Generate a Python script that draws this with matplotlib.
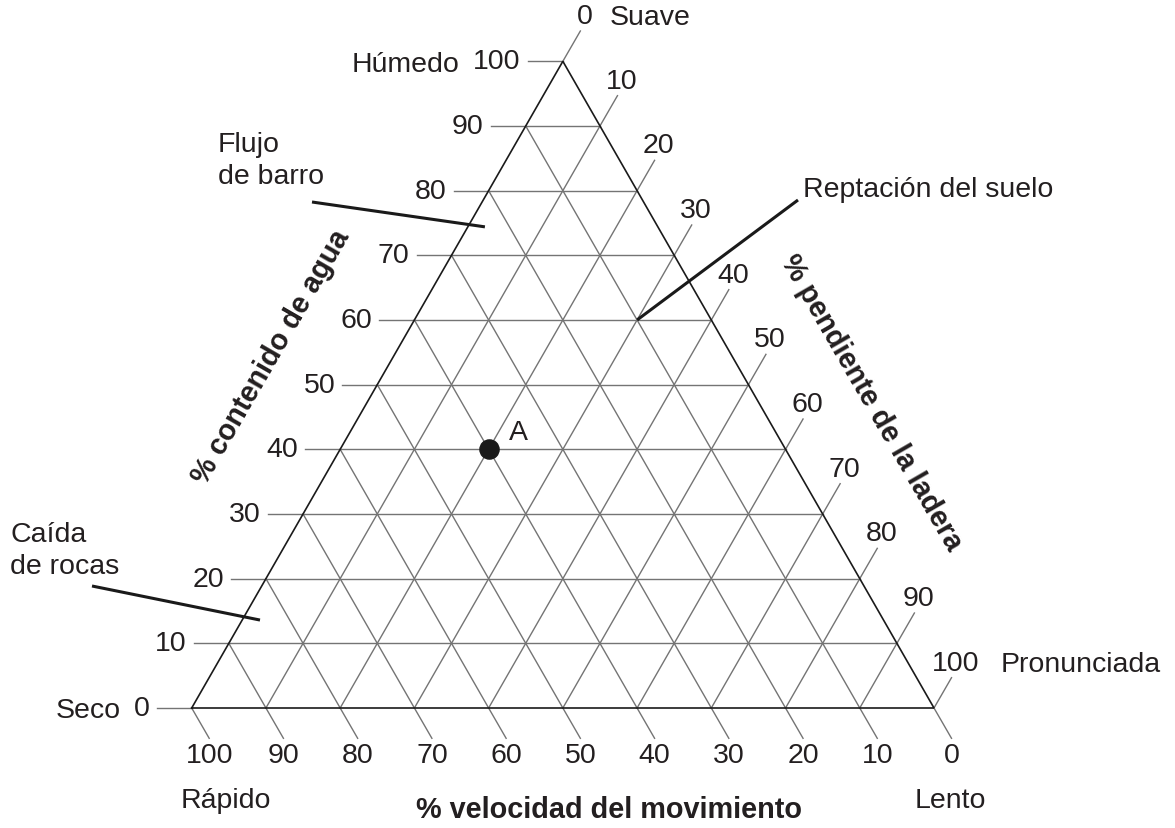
import numpy as np
import matplotlib
matplotlib.use("Agg")
import matplotlib.pyplot as plt

plt.rcParams['font.family'] = ['Liberation Sans', 'DejaVu Sans']

# ---- data ----
tick_values = [0, 10, 20, 30, 40, 50, 60, 70, 80, 90, 100]
water_ticks = tick_values            # left axis: % contenido de agua (0 bottom, 100 apex)
slope_ticks = tick_values            # right axis: % pendiente (0 apex, 100 bottom-right)
velocity_ticks = tick_values         # bottom axis: % velocidad (100 left, 0 right)
point_names = ["A"]
point_water = [40]
point_slope = [20]
point_velocity = [40]
callout_labels = ["Flujo\nde barro", "Caída\nde rocas", "Reptación del suelo"]
callout_water = [74.4, 13.6, 60]
callout_slope = [2.3, 2.4, 30]
callout_velocity = [23.3, 84.0, 10]

TXT = '#231f20'
GRID = '#747474'
H = np.sqrt(3) / 2

W_PX, H_PX = 1175, 829
fig = plt.figure(figsize=(W_PX / 100, H_PX / 100), dpi=100)
ax = fig.add_axes([0, 0, 1, 1])
# triangle: bottom-left at px (191.7, 709), width 742.3 px, apex at y=62.3
sx = 742.3
sy = 646.7 / H
x0p, y0p = 191.7, 709.0
ax.set_xlim(-x0p / sx, (W_PX - x0p) / sx)
ax.set_ylim(-(H_PX - y0p) / sy, y0p / sy)
ax.axis('off')


def px(x, y):
    """pixel position (from top-left) -> data coords"""
    return (x - x0p) / sx, (y0p - y) / sy


def tern(w, s, v):
    w, s, v = w / 100, s / 100, v / 100
    tot = w + s + v
    w, s, v = w / tot, s / tot, v / tot
    y = w * H
    x = s + w / 2
    return x, y


# triangle outline
tri_x = [0, 1, 0.5, 0]
tri_y = [0, 0, H, 0]
ax.plot(tri_x, tri_y, color='#1a1a1a', lw=1.2, zorder=3, solid_joinstyle='miter')

# grid lines
for t in tick_values[1:-1]:
    f = t / 100
    # water (horizontal)
    ax.plot([f / 2, 1 - f / 2], [f * H, f * H], color=GRID, lw=1.0, zorder=1)
    # slope (parallel to left side)
    ax.plot([f, 0.5 + 0.5 * f], [0, H * (1 - f)], color=GRID, lw=1.0, zorder=1)
    # velocity (parallel to right side)
    ax.plot([1 - f, (1 - f) / 2], [0, (1 - f) * H], color=GRID, lw=1.0, zorder=1)

L = 35 / sx  # tick length
fs = 20.5
# left ticks (water)
for t in water_ticks:
    f = t / 100
    x, y = f / 2, f * H
    ax.plot([x - L, x], [y, y], color=GRID, lw=1.0, zorder=1)
    ax.text(x - L - 7 / sx, y, str(t), ha='right', va='center', fontsize=fs, color=TXT)
# right ticks (slope)
ddx, ddy = 0.5 * L, H * L * sx / sy
for t in slope_ticks:
    f = t / 100
    x, y = 0.5 + 0.5 * f, H * (1 - f)
    ax.plot([x, x + ddx], [y, y + ddy], color=GRID, lw=1.0, zorder=1)
    ax.text(x + ddx + 4 / sx, y + ddy + 2 / sy, str(t), ha='center', va='bottom', fontsize=fs, color=TXT)
# bottom ticks (velocity)
for t in velocity_ticks:
    f = t / 100
    x, y = 1 - f, 0
    ax.plot([x, x + ddx], [y, y - ddy], color=GRID, lw=1.0, zorder=1)
    ax.text(x + ddx, y - ddy - 17 / sy, str(t), ha='center', va='center', fontsize=fs, color=TXT)

# end labels
ax.text(*px(460, 65), "Húmedo", ha='right', va='center', fontsize=fs, color=TXT)
ax.text(*px(121, 711), "Seco", ha='right', va='center', fontsize=fs, color=TXT)
ax.text(*px(610, 18), "Suave", ha='left', va='center', fontsize=fs, color=TXT)
ax.text(*px(1001, 665), "Pronunciada", ha='left', va='center', fontsize=fs, color=TXT)
ax.text(*px(226, 801), "Rápido", ha='center', va='center', fontsize=fs, color=TXT)
ax.text(*px(950, 801), "Lento", ha='center', va='center', fontsize=fs, color=TXT)

# axis titles
tfs = 20.8
ax.text(*px(609, 810), "% velocidad del movimiento", ha='center', va='center',
        fontsize=tfs, fontweight='bold', color=TXT)
ax.text(*px(271, 357), "% contenido de agua", ha='center', va='center', rotation=60,
        rotation_mode='anchor', fontsize=tfs, fontweight='bold', color=TXT)
ax.text(*px(871, 403), "% pendiente de la ladera", ha='center', va='center', rotation=-60,
        rotation_mode='anchor', fontsize=tfs, fontweight='bold', color=TXT)

# point A
for name, w, s, v in zip(point_names, point_water, point_slope, point_velocity):
    x, y = tern(w, s, v)
    ax.plot([x], [y], 'o', ms=13.8, color='#1a1a1a', zorder=5)
    ax.text(x + 20 / sx, y + 17 / sy, name, ha='left', va='center', fontsize=fs, color=TXT)

# callouts
callout_text_pos = [(218, 161), (10, 551), (803, 190)]
callout_line_start = [(312, 203), (92, 587), (798, 201)]
for lab, w, s, v, tp, ls in zip(callout_labels, callout_water, callout_slope, callout_velocity,
                                callout_text_pos, callout_line_start):
    x, y = tern(w, s, v)
    sxp, syp = px(*ls)
    ax.plot([sxp, x], [syp, y], color='#1a1a1a', lw=2.2, zorder=4, solid_capstyle='butt')
    ax.text(*px(*tp), lab, ha='left', va='center', fontsize=fs, color=TXT, linespacing=1.33)

fig.savefig('out.png', dpi=100)
